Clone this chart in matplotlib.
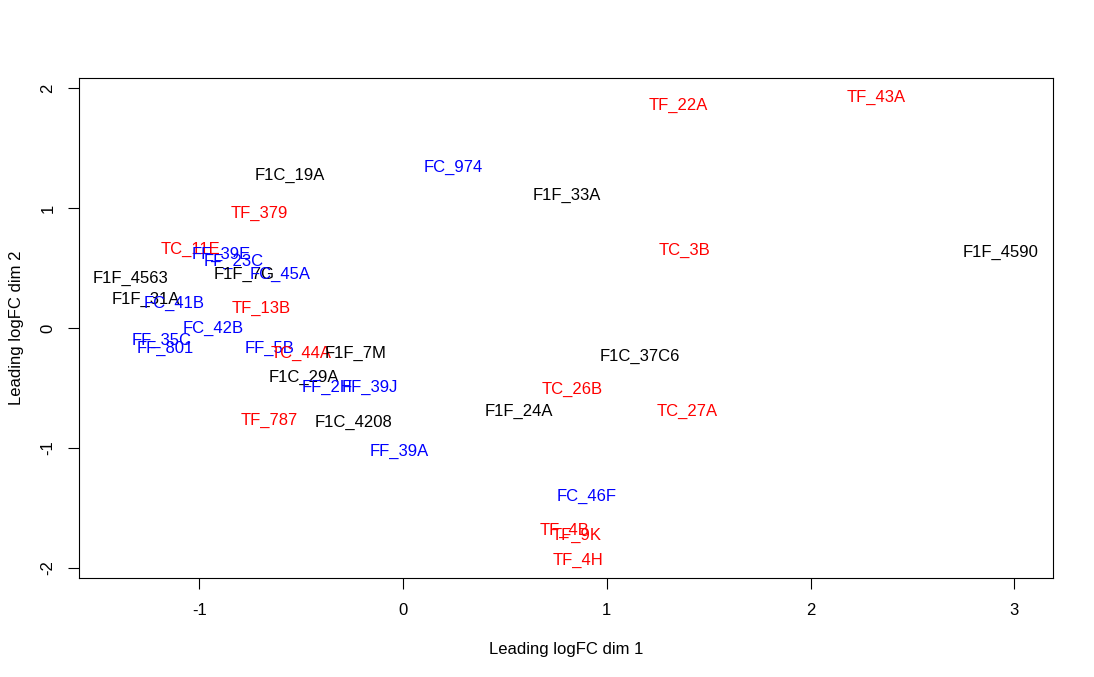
import matplotlib
matplotlib.use("Agg")
import matplotlib.pyplot as plt

labels = ["TF_43A", "TF_22A", "FC_974", "F1C_19A", "F1F_33A", "TF_379", "TC_3B",
          "F1F_4590", "TC_11E", "FF_39E", "FF_23C", "F1F_7G", "FC_45A", "F1F_4563",
          "F1F_31A", "FC_41B", "TF_13B", "FC_42B", "FF_35C", "FF_801", "FF_5B",
          "TC_44A", "F1F_7M", "F1C_29A", "FF_2H", "FF_39J", "TF_787", "F1C_4208",
          "FF_39A", "F1F_24A", "TC_26B", "F1C_37C6", "TC_27A", "FC_46F", "TF_4B",
          "TF_9K", "TF_4H"]
dim1 = [2.321, 1.350, 0.245, -0.557, 0.802, -0.707, 1.384,
        2.935, -1.045, -0.891, -0.829, -0.780, -0.601, -1.335,
        -1.264, -1.124, -0.697, -0.933, -1.185, -1.168, -0.655,
        -0.498, -0.233, -0.486, -0.371, -0.162, -0.655, -0.243,
        -0.020, 0.567, 0.832, 1.161, 1.394, 0.903, 0.793,
        0.852, 0.859]
dim2 = [1.925, 1.858, 1.342, 1.275, 1.108, 0.958, 0.650,
        0.633, 0.658, 0.617, 0.558, 0.450, 0.450, 0.417,
        0.242, 0.208, 0.167, 0.000, -0.100, -0.167, -0.167,
        -0.214, -0.208, -0.414, -0.498, -0.498, -0.767, -0.783,
        -1.025, -0.692, -0.508, -0.233, -0.692, -1.400, -1.683,
        -1.725, -1.933]
groups = ["T", "T", "F", "K", "K", "T", "T",
          "K", "T", "F", "F", "K", "F", "K",
          "K", "F", "T", "F", "F", "F", "F",
          "T", "K", "K", "F", "F", "T", "K",
          "F", "K", "T", "K", "T", "F", "T",
          "T", "T"]
group_colors = {"T": "#FF0000", "F": "#0000FF", "K": "#000000"}

plt.rcParams['font.family'] = ['Liberation Sans', 'DejaVu Sans']

fig = plt.figure(figsize=(10.94, 6.77), dpi=100)
ax = fig.add_axes([79/1094, 1-578/677, (1053-79)/1094, (578-78)/677])

for lab, x, y, g in zip(labels, dim1, dim2, groups):
    ax.text(x, y, lab, color=group_colors[g], fontsize=12, ha="center", va="center")

ax.set_xlim(-1.590, 3.190)
ax.set_ylim(-2.083, 2.083)
ax.set_xticks([-1, 0, 1, 2, 3])
ax.set_yticks([-2, -1, 0, 1, 2])
ax.set_yticklabels(["-2", "-1", "0", "1", "2"], rotation=90, va="center")
ax.set_xticklabels(["-1", "0", "1", "2", "3"])
ax.tick_params(direction="out", length=8, width=0.8, labelsize=12, pad=10, colors="black")
ax.tick_params(axis="y", pad=9)
for s in ax.spines.values():
    s.set_linewidth(0.8)
ax.set_xlabel("Leading logFC dim 1", fontsize=12, labelpad=17)
ax.set_ylabel("Leading logFC dim 2", fontsize=12, labelpad=12)

fig.savefig("out.png", dpi=100)
